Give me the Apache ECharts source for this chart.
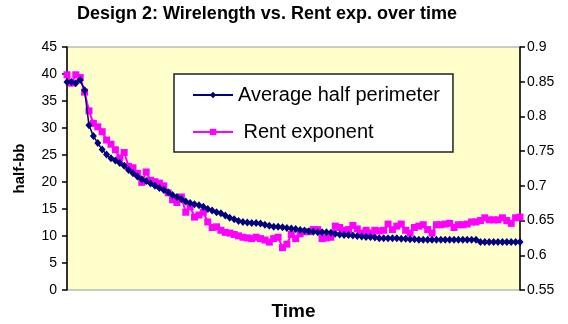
<!DOCTYPE html>
<html>
<head>
<meta charset="utf-8">
<script src="https://cdn.jsdelivr.net/npm/echarts@6/dist/echarts.min.js"></script>
<style>
  html, body { margin: 0; padding: 0; background: #ffffff; }
  #chart { width: 568px; height: 324px; }
</style>
</head>
<body>
<div id="chart"></div>
<script>
// Average half-perimeter of bounding boxes (left axis), one value per sample
const halfPerimeter = [
  38.5, 38.5, 38.3, 38.9, 37.0, 30.5, 28.5, 27.2, 26.0, 25.1,
  24.4, 24.0, 23.5, 23.0, 22.2, 21.6, 21.0, 20.5, 20.2, 19.7,
  19.3, 18.9, 18.5, 18.1, 17.6, 17.2, 16.8, 16.4, 16.1, 15.9,
  15.7, 15.4, 15.0, 14.7, 14.4, 14.2, 13.8, 13.4, 13.1, 12.8,
  12.6, 12.5, 12.4, 12.4, 12.3, 12.1, 11.9, 11.7, 11.7, 11.6,
  11.5, 11.4, 11.3, 11.1, 11.0, 10.9, 10.8, 10.7, 10.7, 10.7,
  10.6, 10.4, 10.3, 10.2, 10.2, 10.1, 10.0, 9.9, 9.8, 9.8,
  9.7, 9.6, 9.6, 9.6, 9.6, 9.6, 9.5, 9.5, 9.4, 9.4,
  9.3, 9.3, 9.3, 9.3, 9.3, 9.3, 9.3, 9.3, 9.3, 9.3,
  9.3, 9.3, 9.3, 9.3, 8.9, 8.9, 8.9, 8.9, 8.9, 8.9,
  8.9, 8.9, 8.9, 8.9
];

// Rent exponent (right axis), same samples
const rentExponent = [
  0.860, 0.848, 0.860, 0.856, 0.835, 0.808, 0.790, 0.785, 0.778, 0.766,
  0.760, 0.752, 0.740, 0.748, 0.728, 0.726, 0.718, 0.705, 0.720, 0.708,
  0.706, 0.704, 0.700, 0.690, 0.680, 0.676, 0.684, 0.662, 0.670, 0.655,
  0.658, 0.662, 0.648, 0.640, 0.641, 0.636, 0.633, 0.632, 0.630, 0.628,
  0.626, 0.625, 0.624, 0.626, 0.624, 0.622, 0.619, 0.624, 0.626, 0.611,
  0.616, 0.630, 0.624, 0.631, 0.634, 0.634, 0.637, 0.637, 0.624, 0.625,
  0.626, 0.642, 0.640, 0.636, 0.637, 0.643, 0.638, 0.632, 0.636, 0.632,
  0.636, 0.635, 0.636, 0.645, 0.637, 0.642, 0.645, 0.636, 0.632, 0.640,
  0.642, 0.644, 0.637, 0.632, 0.644, 0.644, 0.645, 0.646, 0.640, 0.644,
  0.644, 0.645, 0.648, 0.648, 0.650, 0.654, 0.651, 0.651, 0.651, 0.654,
  0.650, 0.646, 0.654, 0.655
];

// Sample index along the time axis
const timeSteps = halfPerimeter.map((_, i) => String(i + 1));

const leftTicks = [0, 45, 5];         // min, max, interval
const rightTicks = [0.55, 0.9, 0.05]; // min, max, interval

const font = 'Arial, "Liberation Sans", sans-serif';

const chart = echarts.init(document.getElementById('chart'), null, { renderer: 'canvas' });

chart.setOption({
  animation: false,
  backgroundColor: '#ffffff',
  title: {
    text: 'Design 2: Wirelength vs. Rent exp. over time',
    left: 77,
    top: 5,
    padding: 0,
    textStyle: { fontFamily: font, fontSize: 18, fontWeight: 'bold', color: '#000000' }
  },
  grid: {
    left: 67, right: 48, top: 47, bottom: 34,
    outerBoundsMode: 'none',
    containLabel: false,
    show: true,
    backgroundColor: '#FFFFCC',
    borderColor: '#999999',
    borderWidth: 1
  },
  legend: {
    left: 174, top: 74,
    orient: 'vertical',
    backgroundColor: '#ffffff',
    borderColor: '#222222',
    borderWidth: 1.5,
    padding: [11, 13, 10, 18],
    itemGap: 17,
    itemWidth: 40,
    itemHeight: 8,
    textStyle: { fontFamily: font, fontSize: 20, color: '#000000' },
    data: ['Average half perimeter', ' Rent exponent']
  },
  xAxis: {
    type: 'category',
    data: timeSteps,
    boundaryGap: false,
    name: 'Time',
    nameLocation: 'middle',
    nameGap: 12,
    nameTextStyle: { fontFamily: font, fontSize: 19, fontWeight: 'bold', color: '#000000' },
    axisLine: { show: false },
    axisTick: { show: false },
    axisLabel: { show: false },
    splitLine: { show: false }
  },
  yAxis: [
    {
      type: 'value',
      min: leftTicks[0], max: leftTicks[1], interval: leftTicks[2],
      name: 'half-bb',
      nameLocation: 'middle',
      nameGap: 40,
      nameTextStyle: { fontFamily: font, fontSize: 15, fontWeight: 'bold', color: '#000000' },
      axisLine: { show: true, lineStyle: { color: '#000000', width: 1.5 } },
      axisTick: { show: true, length: 5, lineStyle: { color: '#000000', width: 1.5 } },
      axisLabel: { fontFamily: font, fontSize: 14, color: '#000000', margin: 10 },
      splitLine: { show: false }
    },
    {
      type: 'value',
      position: 'right',
      min: rightTicks[0], max: rightTicks[1], interval: rightTicks[2],
      axisLine: { show: true, lineStyle: { color: '#000000', width: 1.5 } },
      axisTick: { show: true, length: 5, lineStyle: { color: '#000000', width: 1.5 } },
      axisLabel: {
        fontFamily: font, fontSize: 14, color: '#000000', margin: 7,
        formatter: v => String(parseFloat(v.toFixed(2)))
      },
      splitLine: { show: false }
    }
  ],
  series: [
    {
      name: 'Average half perimeter',
      type: 'line',
      yAxisIndex: 0,
      data: halfPerimeter,
      symbol: 'diamond',
      symbolSize: [7, 8],
      showAllSymbol: true,
      lineStyle: { color: '#000080', width: 1.5 },
      itemStyle: { color: '#000080', borderWidth: 0 },
      z: 3
    },
    {
      name: ' Rent exponent',
      type: 'line',
      yAxisIndex: 1,
      data: rentExponent,
      symbol: 'rect',
      symbolSize: 7,
      showAllSymbol: true,
      lineStyle: { color: '#FF00FF', width: 2 },
      itemStyle: { color: '#FF00FF', borderWidth: 0 },
      z: 2
    }
  ]
});
</script>
</body>
</html>
